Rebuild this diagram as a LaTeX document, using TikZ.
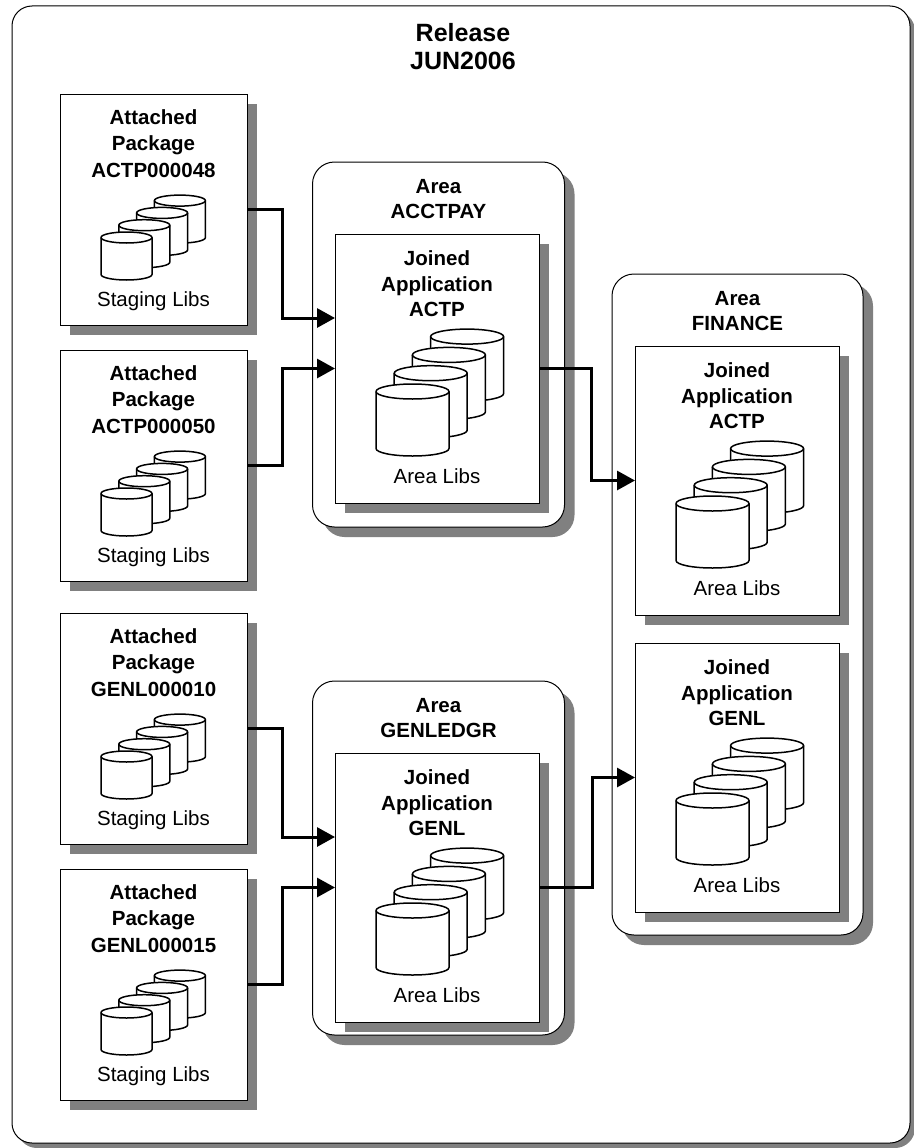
\documentclass[tikz,border=0pt]{standalone}
\usepackage{fontspec}
\setmainfont{Liberation Sans}
\usetikzlibrary{shadows,arrows.meta}
\definecolor{shade}{gray}{0.5}
\tikzset{
  every node/.style={inner sep=0pt, outer sep=0pt, font=\fontsize{20.5}{25}\selectfont},
  boxline/.style={draw=black, line width=1pt, fill=white},
  shadowed/.style={drop shadow={shadow xshift=10pt, shadow yshift=-10pt, fill=shade, opacity=1}},
  pkgbox/.style={boxline, shadowed, anchor=north west, minimum width=187pt, minimum height=231pt},
  appbox/.style={boxline, shadowed, anchor=north west, minimum width=204pt, minimum height=269pt},
  areabox/.style={boxline, shadowed, rounded corners=22pt, anchor=north west},
  boldtext/.style={anchor=base, font=\bfseries\fontsize{20.5}{25}\selectfont},
  libtext/.style={anchor=base, font=\fontsize{20.5}{25}\selectfont},
  bigtext/.style={anchor=base, font=\bfseries\fontsize{25}{28}\selectfont},
  flow/.style={line width=3pt, -{Triangle[length=18pt,width=19pt]}},
  cylline/.style={line width=1.5pt, fill=white, draw=black, line join=round},
}
% #1 x front left, #2 y front top, #3 width, #4 height, #5 ry, #6 dx, #7 dy
\newcommand\cylstack[7]{%
  \foreach \i in {3,2,1,0}{%
    \pgfmathsetmacro\cx{#1+\i*(#6)}%
    \pgfmathsetmacro\cy{#2+\i*(#7)}%
    \filldraw[cylline] (\cx,\cy+#5) -- (\cx,\cy+#4-#5)
      arc[start angle=180,end angle=360,x radius=#3/2*1pt,y radius=#5*1pt]
      -- (\cx+#3,\cy+#5)
      arc[start angle=0,end angle=180,x radius=#3/2*1pt,y radius=#5*1pt] -- cycle;
    \draw[cylline, fill=none] (\cx,\cy+#5)
      arc[start angle=180,end angle=360,x radius=#3/2*1pt,y radius=#5*1pt];
  }}
% package box: #1 name, #2 x, #3 y, #4 code
\newcommand\pkg[4]{%
  \node[pkgbox] (#1) at (#2,#3) {};
  \node[boldtext] (#1-t1) at (#2+93.5,#3+30) {Attached};
  \node[boldtext] (#1-t2) at (#2+93.5,#3+56) {Package};
  \node[boldtext] (#1-t3) at (#2+93.5,#3+83) {#4};
  \cylstack{#2+41}{#3+138}{51}{48}{5.5}{17.8}{-12.3}
  \node[libtext] (#1-lib) at (#2+93.5,#3+212) {Staging Libs};
}
% application box: #1 name, #2 x, #3 y, #4 code
\newcommand\app[4]{%
  \node[appbox] (#1) at (#2,#3) {};
  \node[boldtext] (#1-t1) at (#2+102,#3+31) {Joined};
  \node[boldtext] (#1-t2) at (#2+102,#3+57) {Application};
  \node[boldtext] (#1-t3) at (#2+102,#3+82) {#4};
  \cylstack{#2+41}{#3+150}{73}{72}{7.5}{18.2}{-18.3}
  \node[libtext] (#1-lib) at (#2+102,#3+249) {Area Libs};
}
% area box: #1 name, #2 x, #3 y, #4 w, #5 h, #6 code
\newcommand\area[6]{%
  \node[areabox, minimum width=#4pt, minimum height=#5pt] (#1) at (#2,#3) {};
  \node[boldtext] (#1-t1) at (#2+#4/2,#3+31) {Area};
  \node[boldtext] (#1-t2) at (#2+#4/2,#3+56) {#6};
}
\begin{document}
\begin{tikzpicture}[x=1pt,y=-1pt]
\useasboundingbox (0,0) rectangle (913,1148);
% release frame
\node[boxline, rounded corners=20pt, anchor=north west, minimum width=898pt, minimum height=1137pt,
      drop shadow={shadow xshift=5pt, shadow yshift=-5pt, fill=shade, opacity=1}] (release) at (12,6) {};
\node[bigtext] (rel-t1) at (463,42) {Release};
\node[bigtext] (rel-t2) at (463,70) {JUN2006};
% packages
\pkg{p1}{60}{94}{ACTP000048}
\pkg{p2}{60}{350}{ACTP000050}
\pkg{p3}{60}{613}{GENL000010}
\pkg{p4}{60}{869}{GENL000015}
% areas
\area{acct}{312.5}{162}{252}{365}{ACCTPAY}
\app{aa}{335}{234}{ACTP}
\area{genl}{312.5}{681}{252}{354}{GENLEDGR}
\app{ga}{335}{753}{GENL}
\area{fin}{612}{274}{251}{661}{FINANCE}
\app{fa1}{635}{346}{ACTP}
\app{fa2}{635}{643}{GENL}
% connectors
\draw[flow] (p1.east) -- ++(35,0) |- ([yshift=50.5pt]aa.west);
\draw[flow] (p2.east) -- ++(35,0) |- (aa.west);
\draw[flow] (p3.east) -- ++(35,0) |- ([yshift=50.5pt]ga.west);
\draw[flow] (p4.east) -- ++(35,0) |- (ga.west);
\draw[flow] (aa.east) -- ++(52,0) |- (fa1.west);
\draw[flow] (ga.east) -- ++(53,0) |- (fa2.west);
\end{tikzpicture}
\end{document}
